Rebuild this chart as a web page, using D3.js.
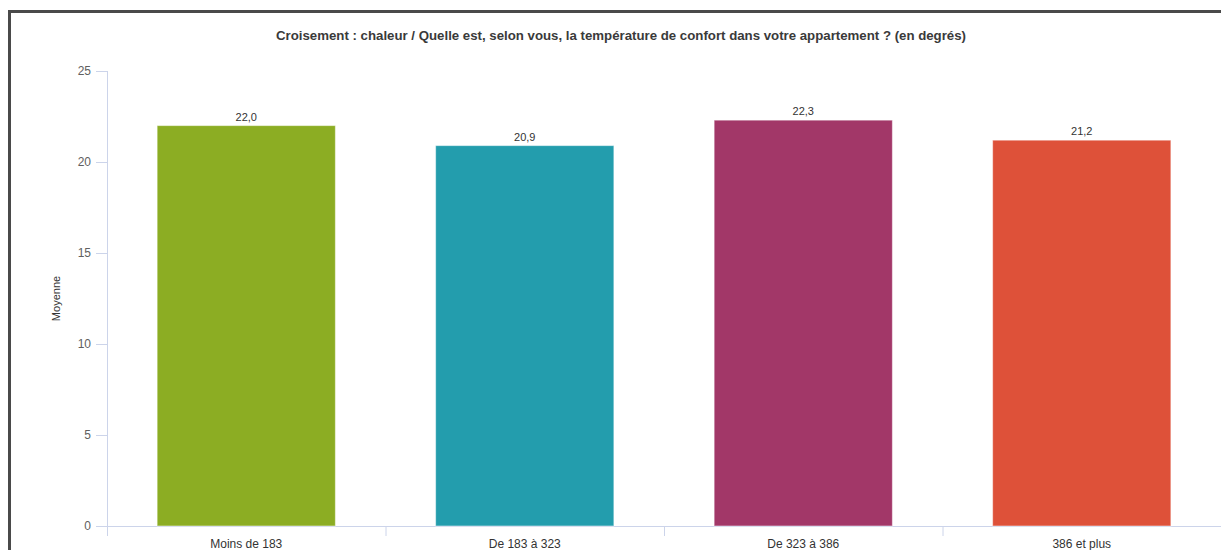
<!DOCTYPE html>
<html>
<head>
<meta charset="utf-8">
<script src="https://d3js.org/d3.v7.min.js"></script>
<style>
  body { margin: 0; background: #fff; }
  svg { display: block; font-family: "Liberation Sans", Arial, sans-serif; }
</style>
</head>
<body>
<div id="chart"></div>
<script>
// data
const categories = ["Moins de 183", "De 183 à 323", "De 323 à 386", "386 et plus"];
const values = [22.0, 20.9, 22.3, 21.2];
const colors = ["#8cad23", "#239dad", "#a23768", "#de5139"];
const yTicks = [0, 5, 10, 15, 20, 25];

const title = "Croisement : chaleur / Quelle est, selon vous, la température de confort dans votre appartement ? (en degrés)";
const yLabel = "Moyenne";

const W = 1221, H = 550;
const plotLeft = 107, plotRight = 1221, plotTop = 71, plotBottom = 526;

const svg = d3.select("#chart").append("svg")
    .attr("width", W)
    .attr("height", H);

// frame
svg.append("path")
    .attr("d", `M9.5,${H + 5} V11.5 H${W + 5}`)
    .attr("fill", "none")
    .attr("stroke", "#4a4a4a")
    .attr("stroke-width", 3);

const x = d3.scaleBand()
    .domain(categories)
    .range([plotLeft, plotRight])
    .paddingInner(0.36)
    .paddingOuter(0.18);

const y = d3.scaleLinear()
    .domain([0, 25])
    .range([plotBottom, plotTop]);

svg.append("text")
    .attr("x", 621)
    .attr("y", 40)
    .attr("text-anchor", "middle")
    .attr("font-size", "13px")
    .attr("font-weight", "bold")
    .attr("textLength", 690)
    .attr("lengthAdjust", "spacingAndGlyphs")
    .attr("fill", "#3a3a3a")
    .text(title);

// y axis
const yAxis = svg.append("g")
    .attr("transform", `translate(${plotLeft},0)`)
    .call(d3.axisLeft(y).tickValues(yTicks).tickSize(11).tickPadding(5));
yAxis.select(".domain").attr("d", `M0.5,${plotTop} V${plotBottom + 10}`);
yAxis.selectAll("line").attr("stroke", "#ccd4ea");
yAxis.select(".domain").attr("stroke", "#ccd4ea");
yAxis.selectAll("text")
    .attr("font-size", "12px")
    .attr("fill", "#606060")
    .attr("font-family", "'Liberation Sans', Arial, sans-serif");

svg.append("text")
    .attr("transform", `translate(60,${(plotTop + plotBottom) / 2}) rotate(-90)`)
    .attr("text-anchor", "middle")
    .attr("font-size", "11px")
    .attr("fill", "#333")
    .text(yLabel);

// category boundary ticks along the bottom
const step = x.step();
const xAxis = svg.append("g");
xAxis.append("line")
    .attr("x1", plotLeft).attr("x2", plotRight)
    .attr("y1", plotBottom + 0.5).attr("y2", plotBottom + 0.5)
    .attr("stroke", "#ccd4ea");
xAxis.selectAll(".sep")
    .data(categories.slice(1))
    .join("line")
    .attr("class", "sep")
    .attr("x1", d => x(d) - x.paddingInner() * step / 2 + 0.5)
    .attr("x2", d => x(d) - x.paddingInner() * step / 2 + 0.5)
    .attr("y1", plotBottom)
    .attr("y2", plotBottom + 10)
    .attr("stroke", "#ccd4ea");
xAxis.selectAll(".lab")
    .data(categories)
    .join("text")
    .attr("class", "lab")
    .attr("x", d => x(d) + x.bandwidth() / 2)
    .attr("y", plotBottom + 22)
    .attr("text-anchor", "middle")
    .attr("font-size", "12px")
    .attr("fill", "#333")
    .text(d => d);

// bars
const data = categories.map((c, i) => ({ cat: c, val: values[i], color: colors[i] }));

svg.selectAll(".bar")
    .data(data)
    .join("rect")
    .attr("class", "bar")
    .attr("x", d => x(d.cat))
    .attr("y", d => y(d.val))
    .attr("width", x.bandwidth())
    .attr("height", d => y(0) - y(d.val))
    .attr("fill", d => d.color)
    .attr("stroke", "#ffffff")
    .attr("stroke-opacity", 0.5)
    .attr("stroke-width", 1);

svg.selectAll(".val")
    .data(data)
    .join("text")
    .attr("class", "val")
    .attr("x", d => x(d.cat) + x.bandwidth() / 2)
    .attr("y", d => y(d.val) - 5)
    .attr("text-anchor", "middle")
    .attr("font-size", "11px")
    .attr("fill", "#333")
    .text(d => d.val.toFixed(1).replace(".", ","));
</script>
</body>
</html>
